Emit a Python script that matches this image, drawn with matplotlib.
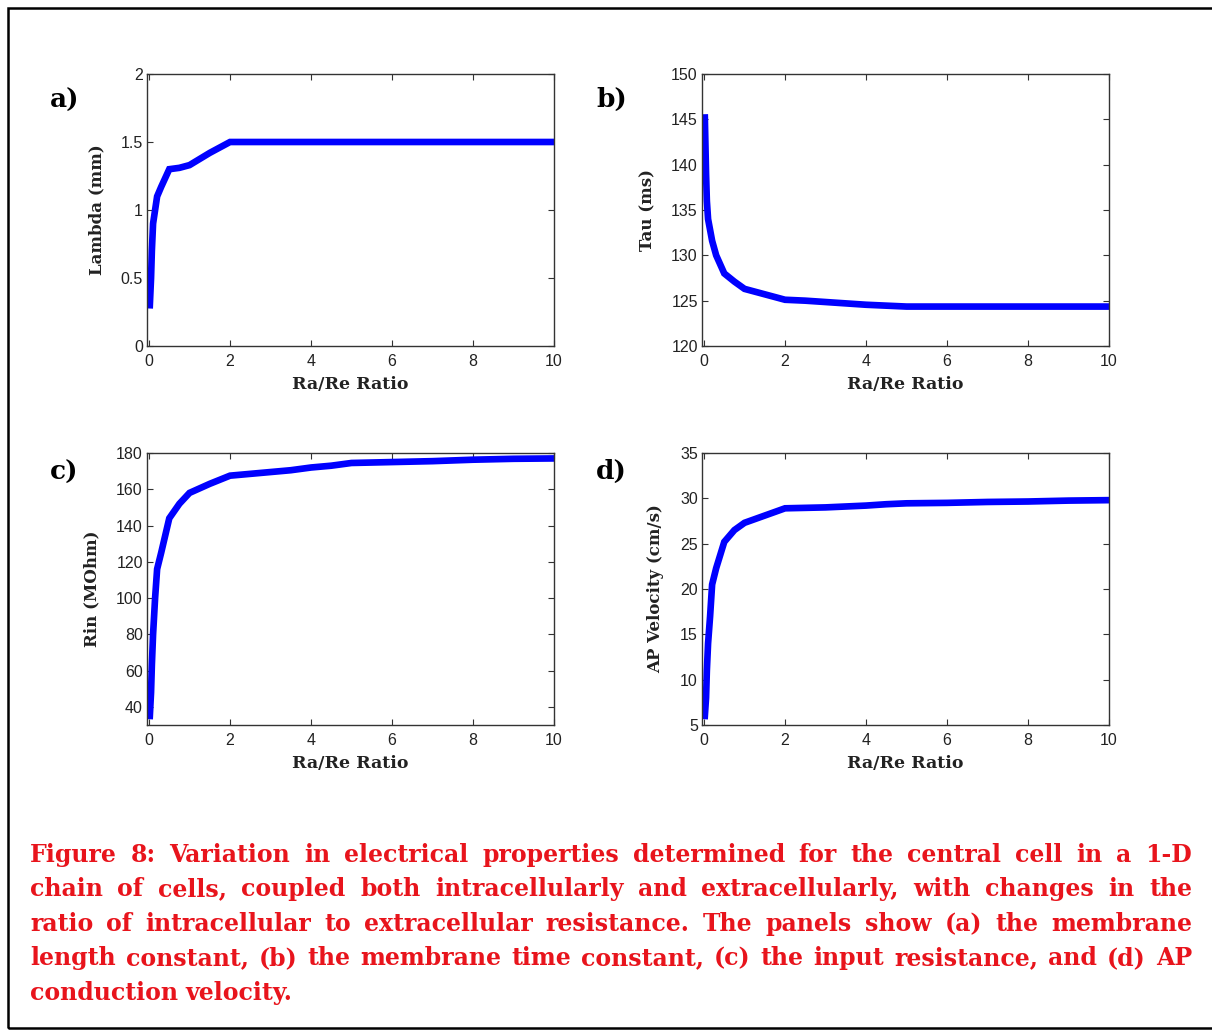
import numpy as np
import matplotlib
matplotlib.use("Agg")
import matplotlib.pyplot as plt
from matplotlib.patches import Rectangle

# data
ratio = [0.02, 0.05, 0.07, 0.1, 0.15, 0.2, 0.3, 0.5, 0.75, 1.0, 1.5, 2.0,
         2.5, 3.0, 3.5, 4.0, 4.5, 5.0, 6.0, 7.0, 8.0, 9.0, 10.0]
lambda_mm = [0.3, 0.5, 0.7, 0.9, 1.0, 1.1, 1.17, 1.3, 1.31, 1.33, 1.42, 1.5,
             1.5, 1.5, 1.5, 1.5, 1.5, 1.5, 1.5, 1.5, 1.5, 1.5, 1.5]
tau_ms = [145.2, 139.0, 136.0, 134.0, 132.8, 131.6, 130.0, 128.0, 127.1, 126.3,
          125.7, 125.1, 125.0, 124.85, 124.7, 124.55, 124.45, 124.35, 124.35,
          124.35, 124.35, 124.35, 124.35]
rin_mohm = [35, 48, 63, 80, 100, 116, 125, 144, 152, 158, 163, 167.5, 168.5,
            169.5, 170.5, 172, 173, 174.5, 175, 175.5, 176.3, 176.8, 177]
ap_vel = [6.0, 8.0, 11.0, 14.0, 17.0, 20.5, 22.3, 25.2, 26.5, 27.3, 28.1, 28.9,
          28.95, 29.0, 29.1, 29.2, 29.35, 29.45, 29.5, 29.6, 29.65, 29.75, 29.8]

panels = [
    ("a)", lambda_mm, "Lambda (mm)", (0, 2), [0, 0.5, 1, 1.5, 2], ["0", "0.5", "1", "1.5", "2"]),
    ("b)", tau_ms, "Tau (ms)", (120, 150), [120, 125, 130, 135, 140, 145, 150], None),
    ("c)", rin_mohm, "Rin (MOhm)", (30, 180), [40, 60, 80, 100, 120, 140, 160, 180], None),
    ("d)", ap_vel, "AP Velocity (cm/s)", (5, 35), [5, 10, 15, 20, 25, 30, 35], None),
]

caption_lines = [
    "Figure 8: Variation in electrical properties determined for the central cell in a 1-D",
    "chain of cells, coupled both intracellularly and extracellularly, with changes in the",
    "ratio of intracellular to extracellular resistance. The panels show (a) the membrane",
    "length constant, (b) the membrane time constant, (c) the input resistance, and (d) AP",
    "conduction velocity.",
]

W, H = 1212, 1030
fig = plt.figure(figsize=(W / 100, H / 100), dpi=100)
fig.patch.set_facecolor("white")

tick_font = ["Liberation Sans Narrow", "Liberation Sans", "DejaVu Sans"]
serif = ["DejaVu Serif"]

# axes boxes in pixels: left, top
boxes = [(147, 74), (702, 74), (147, 453), (702, 453)]
ax_w, ax_h = 407, 272
label_pos = [(50, 100), (596, 99), (50, 472), (596, 471)]
ylabel_x = [97, 648, 92, 656]

for i, (tag, vals, ylab, ylim, yt, ytl) in enumerate(panels):
    left, top = boxes[i]
    ax = fig.add_axes([left / W, 1 - (top + ax_h) / H, ax_w / W, ax_h / H])
    ax.plot(ratio, vals, color="#0000ff", linewidth=4.8, solid_joinstyle="miter")
    ax.set_xlim(-0.05, 10)
    ax.set_ylim(*ylim)
    ax.set_xticks([0, 2, 4, 6, 8, 10])
    ax.set_yticks(yt)
    if ytl:
        ax.set_yticklabels(ytl)
    ax.tick_params(direction="in", top=True, right=True, length=4, width=0.8,
                   colors="#333333", labelcolor="#222222", labelsize=11.5)
    ax.tick_params(axis="x", pad=6)
    ax.tick_params(axis="y", pad=3)
    for lab in ax.get_xticklabels() + ax.get_yticklabels():
        lab.set_family(tick_font)
    for s in ax.spines.values():
        s.set_color("#333333")
        s.set_linewidth(1.0)
    ax.set_xlabel("Ra/Re Ratio", family=serif, fontweight="bold", fontsize=12.5,
                  color="#222222", labelpad=5)
    fig.text(ylabel_x[i] / W, 1 - (top + ax_h / 2) / H, ylab, family=serif,
             fontweight="bold", fontsize=12, color="#222222", rotation=90,
             ha="center", va="center")
    fig.text(label_pos[i][0] / W, 1 - label_pos[i][1] / H, tag, family=serif,
             fontweight="bold", fontsize=19, color="black", ha="left", va="center")

# caption, justified like the source
cap_color = "#e8141c"
x0, x1 = 30, 1192
baselines = [862, 896, 931, 965, 1000]
renderer = fig.canvas.get_renderer()

# pick a size so the widest full line nearly fills the text block
probe = [fig.text(0, 0, l, family=serif, fontweight="bold", fontsize=16) for l in caption_lines[:4]]
widest = max(t.get_window_extent(renderer).width for t in probe)
for t in probe:
    t.remove()
cap_size = 16 * 1140 / widest

for line, yb in zip(caption_lines, baselines):
    words = line.split(" ")
    texts = [fig.text(0, 1 - yb / H, w, family=serif, fontweight="bold", fontsize=cap_size,
                      color=cap_color, ha="left", va="baseline") for w in words]
    widths = [t.get_window_extent(renderer).width for t in texts]
    if line is caption_lines[-1]:
        gap = renderer.points_to_pixels(cap_size) * 0.32
    else:
        gap = (x1 - x0 - sum(widths)) / (len(words) - 1)
    x = x0
    for t, w in zip(texts, widths):
        t.set_x(x / W)
        x += w + gap

# frame around the figure
fig.add_artist(Rectangle((8 / W, 2 / H), 1.2, 1 - 10 / H, transform=fig.transFigure,
                         fill=False, edgecolor="black", linewidth=1.8))

fig.savefig("out.png", dpi=100)
